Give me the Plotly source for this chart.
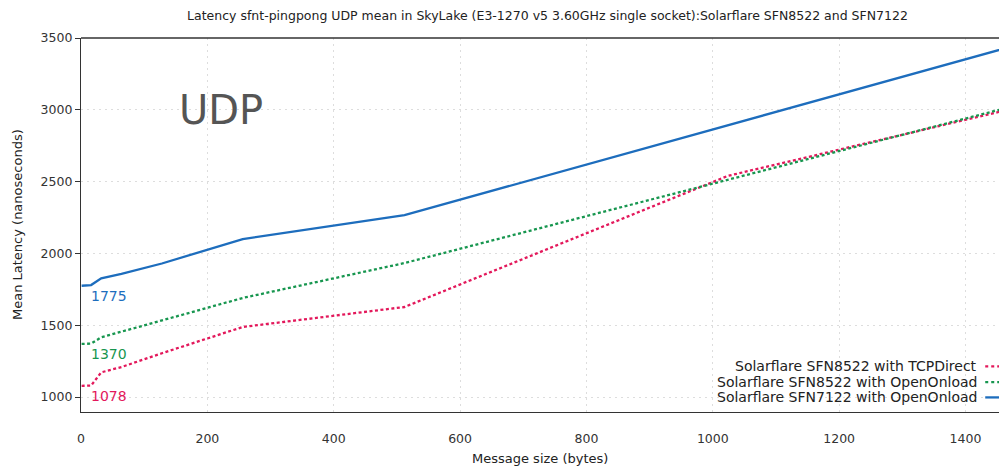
import plotly.graph_objects as go

sizes = [1, 16, 32, 64, 128, 256, 512, 1024, 1472]
tcpdirect_8522 = [1078, 1080, 1172, 1209, 1305, 1488, 1627, 2540, 3005]
openonload_8522 = [1370, 1372, 1416, 1455, 1535, 1690, 1933, 2513, 3021]
openonload_7122 = [1775, 1780, 1827, 1857, 1930, 2100, 2267, 2892, 3440]

names = ["Solarflare SFN8522 with TCPDirect",
         "Solarflare SFN8522 with OpenOnload",
         "Solarflare SFN7122 with OpenOnload"]
colors = ["#e3185b", "#17964f", "#1d6dbd"]
dashes = ["3px,2.5px", "3px,2.5px", "solid"]
series = [tcpdirect_8522, openonload_8522, openonload_7122]

FONT = "DejaVu Sans"
fig = go.Figure()
for name, ys, c, d in zip(names, series, colors, dashes):
    fig.add_trace(go.Scatter(x=sizes, y=ys, mode="lines", name=name,
                             line=dict(color=c, width=2.3, dash=d),
                             showlegend=False))

# start-value labels
for ys, c in zip(series, colors):
    fig.add_annotation(x=12, y=ys[0], text=str(ys[0]), showarrow=False,
                       xanchor="left", yanchor="top", yshift=0,
                       font=dict(family=FONT, size=14, color=c))

fig.add_annotation(x=152, y=3000, text="UDP", showarrow=False,
                   xanchor="left", yanchor="middle",
                   font=dict(family=FONT, size=40, color="#555555"))

# legend (text right-aligned, sample on the right)
leg_y = [0.122, 0.080, 0.039]
for name, c, d, yy in zip(names, colors, dashes, leg_y):
    fig.add_annotation(xref="paper", yref="paper", x=0.978, y=yy, text=name,
                       showarrow=False, xanchor="right", yanchor="middle",
                       font=dict(family=FONT, size=14, color="#222222"))
    fig.add_shape(type="line", xref="paper", yref="paper", x0=0.985, x1=1.0,
                  y0=yy, y1=yy, layer="above",
                  line=dict(color=c, width=2.3, dash="dot" if d != "solid" else "solid"))

# axis titles
fig.add_annotation(xref="paper", yref="paper", x=0.5, y=-0.123, text="Message size (bytes)",
                   showarrow=False, xanchor="center", yanchor="middle",
                   font=dict(family=FONT, size=13, color="#222222"))
fig.add_annotation(xref="paper", yref="paper", x=-0.0697, y=0.5, text="Mean Latency (nanoseconds)",
                   showarrow=False, xanchor="center", yanchor="middle", textangle=-90,
                   font=dict(family=FONT, size=13, color="#222222"))

fig.update_layout(
    width=999, height=466,
    margin=dict(l=81, r=0, t=38, b=54, autoexpand=False),
    paper_bgcolor="white", plot_bgcolor="white",
    font=dict(family=FONT, size=12.5, color="#333333"),
    title=dict(text="Latency sfnt-pingpong UDP mean in SkyLake (E3-1270 v5 3.60GHz single socket):Solarflare SFN8522 and SFN7122",
               x=0.548, xref="container", xanchor="center", y=0.967, yanchor="middle",
               automargin=False,
               font=dict(family=FONT, size=12.5, color="#222222")),
)
fig.update_xaxes(range=[0, 1453], tickvals=[0, 200, 400, 600, 800, 1000, 1200, 1400],
                 showgrid=True, gridcolor="#dddddd", griddash="2px,4px", gridwidth=1,
                 zeroline=False, showline=True, linecolor="#333333", linewidth=1.3,
                 mirror=False, ticks="", ticklabelstandoff=15, automargin=False)
fig.update_yaxes(range=[896, 3500], tickvals=[1000, 1500, 2000, 2500, 3000, 3500],
                 showgrid=True, gridcolor="#dddddd", griddash="2px,4px", gridwidth=1,
                 zeroline=False, showline=True, linecolor="#333333", linewidth=1.3,
                 ticks="outside", ticklen=5, tickcolor="#333333", automargin=False)
# top frame line
fig.add_shape(type="line", xref="paper", yref="paper", x0=0, x1=1, y0=1, y1=1,
              line=dict(color="#333333", width=1.3))

fig.write_html("out.html", config={"displayModeBar": False},
               post_script="document.body.style.margin='0';document.body.style.overflow='hidden';")
